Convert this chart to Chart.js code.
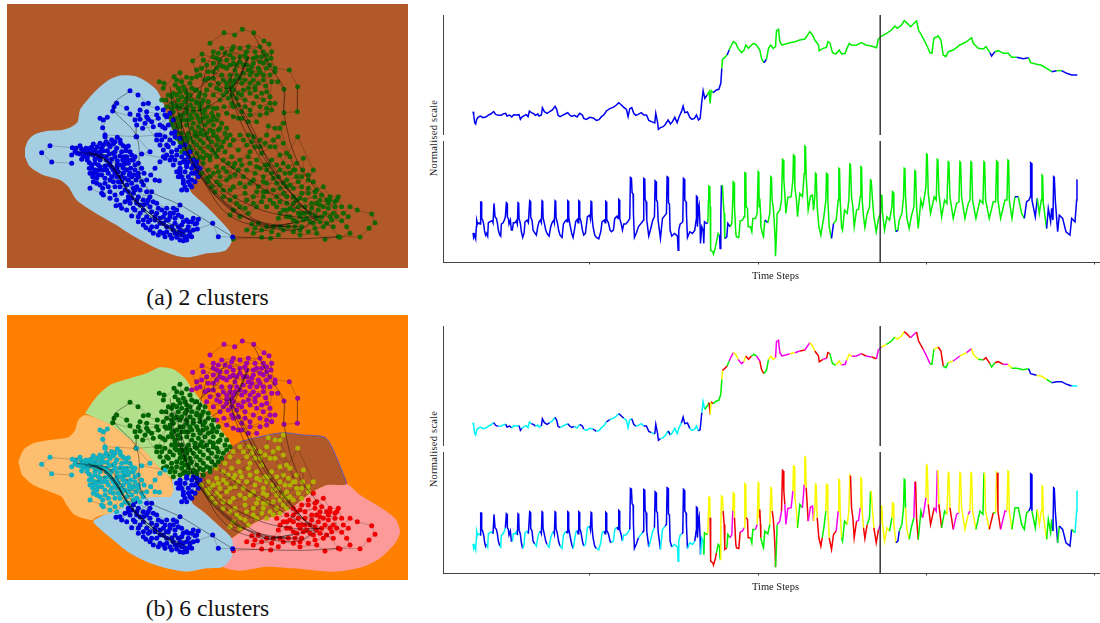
<!DOCTYPE html>
<html>
<head>
<meta charset="utf-8">
<title>Clusters</title>
<script src="https://cdn.jsdelivr.net/npm/chart.js@4"></script>
<style>
html, body { margin: 0; padding: 0; background: #fff; }
body { position: relative; width: 1100px; height: 623px; overflow: hidden; font-family: "Liberation Serif", serif; color: #111; }
canvas { position: absolute; display: block; }
.caption { position: absolute; width: 401px; left: 7px; text-align: center; font-size: 23.7px; line-height: 24px; }
.ylabel { position: absolute; left: 384px; width: 100px; text-align: center; font-size: 10.5px; line-height: 12px; letter-spacing: .25px; transform: rotate(-90deg); color: #222; }
</style>
</head>
<body>
<canvas id="mapA" width="401" height="264" style="left:7px;top:4px"></canvas>
<canvas id="mapB" width="401" height="265" style="left:7px;top:315px"></canvas>
<canvas id="topA" width="668" height="120" style="left:440px;top:15px"></canvas>
<canvas id="botA" width="668" height="144" style="left:440px;top:141px"></canvas>
<canvas id="topB" width="668" height="120" style="left:440px;top:326px"></canvas>
<canvas id="botB" width="668" height="144" style="left:440px;top:452px"></canvas>
<div class="caption" style="top:285px">(a) 2 clusters</div>
<div class="caption" style="top:596px">(b) 6 clusters</div>
<div class="ylabel" style="top:132px">Normalised scale</div>
<div class="ylabel" style="top:443px">Normalised scale</div>
<script>
// Map nodes (map units)
const cyanNodes = [[215,490],[155,486],[125,458],[150,437],[217,443],[240,437],[215,465],[232,460],[250,455],[270,445],[290,460],[262,470],[240,462],[225,455],[258,445],[280,432],[300,430],[318,425],[335,420],[352,412],[360,420],[315,410],[330,440],[350,445],[370,437],[385,438],[395,465],[372,470],[345,470],[320,480],[296,470],[280,465],[262,480],[275,495],[270,520],[285,510],[300,500],[325,495],[340,510],[360,495],[385,490],[400,480],[405,510],[415,520],[390,520],[370,520],[350,530],[325,520],[305,525],[290,535],[280,545],[270,565],[305,580],[330,575],[345,585],[360,560],[380,555],[395,550],[410,560],[430,555],[415,530],[440,540],[375,535],[340,545],[315,550],[300,555],[288,520],[310,452],[328,462],[345,455],[365,455],[378,452],[340,432],[305,445],[275,455],[255,460],[300,480],[330,490],[350,505],[370,505],[392,505],[295,495],[285,490],[275,505],[310,510],[335,530],[355,545],[375,570],[300,355],[310,360],[322,352],[308,383],[315,405],[410,410],[450,455],[425,462],[495,475],[480,485],[465,505],[452,525],[465,540],[478,542]];
const cyanDense = [[228,445],[245,448],[262,452],[275,442],[292,440],[310,435],[325,432],[345,425],[362,430],[378,443],[390,455],[405,470],[415,490],[425,505],[432,520],[405,495],[395,480],[380,470],[360,468],[340,460],[322,452],[300,455],[285,450],[268,462],[250,470],[245,478],[268,488],[285,478],[305,468],[318,470],[335,478],[352,482],[368,480],[382,478],[372,492],[352,495],[335,502],[315,498],[298,510],[280,520],[268,505],[295,525],[315,535],[330,540],[345,520],[362,530],[380,510],[395,530],[408,540],[425,545],[385,540],[365,545],[345,560],[325,560],[308,565],[290,550],[278,530],[320,510],[355,515],[375,490],[388,525],[402,525],[420,570],[400,565],[385,575],[365,580],[350,600],[330,595],[310,585]];
const blueNodes = [[348,617],[365,625],[385,590],[400,580],[415,590],[430,600],[450,590],[455,575],[390,610],[400,625],[395,648],[420,640],[440,650],[430,630],[410,610],[430,615],[450,620],[470,610],[475,625],[455,635],[465,650],[485,630],[500,625],[520,625],[540,615],[530,630],[510,640],[490,650],[505,660],[525,655],[545,650],[560,660],[575,665],[595,658],[585,672],[565,680],[545,675],[525,670],[500,680],[480,670],[465,660],[445,665],[438,683],[460,700],[480,695],[500,695],[520,690],[540,690],[560,690],[580,690],[592,687],[565,708],[550,722],[530,712],[510,705],[490,700],[555,710],[570,705],[545,705],[638,670],[655,710],[698,711]];
const blueDense = [[385,600],[395,595],[410,600],[420,615],[440,610],[460,605],[405,630],[415,650],[430,660],[450,660],[470,640],[480,655],[495,640],[510,650],[520,640],[535,645],[550,665],[535,680],[515,680],[490,670],[470,680],[455,680],[475,705],[495,710],[515,715],[535,700],[550,695],[570,695],[580,655],[590,670],[565,665],[405,570],[440,575],[445,600],[375,605],[360,615],[380,630],[415,665],[430,675],[450,690],[500,660],[525,700],[540,720],[560,720],[575,710]];
const blobNodes = [[545,570],[555,560],[570,555],[575,540],[585,520],[575,505],[560,500],[540,505],[530,515],[540,520],[555,515],[565,530],[545,530],[540,510],[575,520],[590,500],[580,495],[560,495],[550,540],[535,530],[590,515],[600,505],[565,545],[550,550],[595,530],[585,545],[575,560],[560,570]];
const loopNodes = [[390,272],[414,285],[445,310],[430,312],[472,325],[490,330],[470,345],[440,350],[415,345],[405,360],[390,342],[380,325],[350,310],[342,320],[338,333],[420,358],[445,358],[460,380],[428,385],[410,375],[408,410],[470,405],[488,380],[500,350],[480,375],[495,385],[485,420],[480,435],[500,435],[490,450],[515,400],[525,410],[505,440],[515,470],[530,465],[540,440],[555,460],[565,470],[580,480],[510,480],[525,480],[540,490]];
const loopDense = [[470,420],[480,405],[495,410],[510,420],[520,430],[530,450],[545,470],[555,480],[500,465],[515,455],[490,470],[520,360],[505,375],[525,395],[540,415],[555,435],[570,455],[510,340],[495,345],[440,335],[420,330],[455,365],[475,355],[435,370],[520,495],[550,485],[565,485],[590,485]];
const greenNodes = [[478,245],[492,250],[490,265],[522,230],[540,218],[545,245],[530,240],[560,232],[525,255],[550,260],[570,250],[585,270],[560,280],[540,275],[520,280],[505,285],[498,300],[515,310],[535,300],[555,305],[575,300],[595,290],[610,300],[625,320],[600,320],[580,325],[560,325],[540,325],[520,335],[510,350],[530,355],[550,345],[570,345],[590,345],[610,340],[635,340],[650,360],[625,365],[600,365],[580,370],[560,375],[540,380],[525,385],[545,400],[565,400],[585,395],[605,390],[630,390],[660,385],[675,400],[690,405],[650,410],[625,415],[600,420],[580,425],[560,425],[540,425],[555,445],[575,450],[600,445],[625,440],[650,435],[670,425],[645,460],[620,465],[600,470],[580,475],[610,490],[590,495],[515,290],[530,315],[570,285],[590,305],[515,365],[545,360],[565,360],[595,380],[615,375],[640,375],[570,415],[610,405],[635,425],[590,460],[610,455],[630,480],[655,390],[680,415],[530,400],[550,415]];
const greenDense = [[485,300],[500,320],[515,325],[530,285],[545,290],[560,295],[590,270],[600,280],[615,285],[625,305],[640,325],[655,345],[665,370],[680,385],[640,350],[620,350],[595,355],[575,355],[555,360],[535,370],[518,375],[530,415],[545,435],[560,410],[575,385],[590,410],[610,430],[640,405],[655,420],[665,440],[635,450],[590,435],[570,440],[545,455],[565,460],[590,480],[610,475],[630,470],[655,450],[540,345],[560,335],[580,335],[600,330],[615,330],[635,360],[610,355],[585,405],[600,400],[620,400],[640,395],[525,320],[545,315],[570,315],[590,310],[605,310],[535,265],[555,270],[575,265]];
const purpleNodes = [[630,130],[672,98],[704,105],[727,88],[761,98],[792,123],[807,132],[815,155],[813,175],[825,205],[868,210],[893,260],[892,335],[852,338],[852,268],[833,245],[606,162],[578,182],[590,230],[575,235],[605,205],[620,195],[640,155],[655,160],[675,160],[695,150],[720,145],[740,155],[765,155],[790,155],[800,180],[780,185],[760,175],[740,175],[720,170],[700,175],[680,180],[660,180],[640,190],[625,215],[650,205],[670,200],[690,195],[710,195],[730,195],[755,200],[775,205],[800,205],[825,215],[810,225],[790,225],[770,225],[750,225],[730,220],[710,225],[690,225],[665,225],[640,235],[615,240],[630,255],[655,250],[680,250],[700,250],[725,250],[750,250],[775,250],[797,258],[815,245],[810,290],[790,300],[770,290],[750,280],[730,270],[700,270],[680,275],[660,270],[640,285],[660,300],[685,295],[710,295],[735,300],[760,310],[780,320],[810,310],[825,310],[800,340],[780,345],[750,345],[725,335],[700,320],[672,320],[650,325],[715,355],[745,365],[770,365],[690,240],[705,210],[720,235],[745,210],[680,262],[695,262],[715,280],[640,215],[765,270]];
const purpleDense = [[640,170],[660,195],[680,205],[700,190],[720,185],[740,195],[760,190],[785,170],[800,165],[770,170],[790,240],[760,240],[735,240],[705,240],[670,240],[650,265],[625,235],[600,225],[620,270],[670,285],[695,285],[725,285],[745,265],[765,260],[785,280],[800,275],[750,330],[735,320],[715,315],[695,310],[680,340],[700,350],[725,355],[800,325],[815,330],[790,190],[810,195],[665,145],[700,140],[745,140],[780,140],[650,175],[690,165],[735,165],[755,215],[780,215],[610,180],[590,210]];
const oliveNodes = [[850,370],[825,385],[805,378],[800,405],[780,420],[760,410],[745,405],[720,405],[690,435],[715,450],[740,435],[765,440],[785,460],[810,440],[835,410],[850,430],[860,460],[840,465],[815,480],[795,495],[770,480],[745,470],[720,480],[695,470],[670,480],[650,500],[625,510],[605,520],[630,530],[660,530],[690,530],[715,510],[740,510],[765,520],[790,530],[815,520],[840,510],[865,500],[890,490],[910,475],[908,510],[890,530],[860,540],[830,550],[800,550],[775,560],[750,550],[720,550],[700,560],[660,555],[635,560],[625,545],[705,590],[735,580],[760,590],[790,590],[810,600],[830,590],[850,580],[880,565],[905,560],[925,540],[940,510],[893,410],[770,620],[745,640],[720,650],[690,645],[720,620],[790,575],[860,590],[670,505],[700,500],[680,540],[650,545],[730,530],[770,500],[800,510],[830,495],[855,520],[880,510]];
const oliveDense = [[640,520],[655,515],[680,515],[705,525],[725,495],[750,490],[780,505],[805,495],[835,530],[850,550],[870,555],[895,545],[905,530],[925,525],[870,520],[850,490],[825,440],[780,440],[750,455],[705,490],[685,490],[620,535],[645,575],[670,590],[690,600],[710,610],[740,600],[770,575],[800,575],[820,570],[840,565],[860,560],[820,535],[790,545],[760,540],[735,560],[690,570],[670,570],[700,630],[735,625],[760,610],[785,605],[800,620],[820,610],[840,605],[650,470],[675,455],[700,420],[730,420],[755,425],[795,430],[820,420],[870,470],[885,510],[840,385]];
const redNodes = [[700,717],[785,712],[812,715],[835,705],[850,690],[880,695],[900,705],[950,700],[975,718],[1015,710],[1080,711],[1107,685],[1125,668],[1115,642],[1072,630],[1050,620],[1030,640],[1045,650],[1025,662],[995,660],[970,680],[945,685],[925,695],[905,680],[890,665],[870,650],[850,630],[830,620],[860,610],[880,590],[905,580],[925,580],[950,570],[970,560],[990,590],[1015,590],[1025,620],[1005,620],[985,610],[960,600],[935,610],[915,620],[895,620],[880,630],[905,640],[930,640],[955,630],[975,640],[1000,640],[950,655],[930,665],[910,660],[885,680],[800,680],[775,670],[755,672],[740,690],[765,685],[815,695],[940,545],[1040,680],[1050,700],[1020,712],[915,600],[945,590],[890,600],[870,625],[960,615],[985,625],[1010,600]];
const redDense = [[840,640],[860,650],[880,660],[900,650],[920,655],[945,645],[965,650],[990,650],[1010,650],[1005,605],[980,600],[965,585],[945,575],[925,565],[900,595],[880,610],[860,630],[835,655],[820,680],[785,690],[760,700],[840,680],[865,680],[900,690],[940,670],[960,665],[980,670],[1000,680],[895,640],[915,640],[935,625],[950,610],[970,620],[990,600]];

// Long sweeps of the trajectory through the map
const trajectoryA = [[270,460],[310,480],[350,520],[400,590],[460,650],[550,710]];
const trajectoryB = [[290,465],[335,495],[375,560],[430,625],[510,680],[560,705]];
const trajectoryC = [[500,300],[540,400],[590,510],[650,590],[760,665],[880,690],[950,660]];
const trajectoryD = [[525,300],[565,430],[620,530],[700,610],[790,670],[900,680]];
const trajectoryE = [[690,265],[725,335],[790,470],[880,590],[940,650]];
const trajectoryF = [[700,280],[760,390],[820,510],[900,610],[945,660]];
const trajectoryG = [[680,150],[640,230],[690,265],[745,170],[700,280]];
const trajectoryH = [[600,525],[680,640],[790,680],[870,670],[960,650]];
const trajectoryI = [[660,210],[560,310],[550,420],[610,540],[720,650]];
const trajectoryJ = [[390,272],[340,320],[410,410],[430,550],[550,620],[698,711]];
const trajectoryK = [[698,711],[900,716],[1015,710]];
const trajectoryL = [[760,100],[810,200],[852,268],[852,338],[890,480],[950,570]];
const trajectoryM = [[255,462],[300,470],[330,495],[365,545],[410,610],[480,670],[550,700]];
const trajectoryN = [[265,455],[320,480],[355,530],[395,590],[450,640],[520,695]];
const trajectoryO = [[280,460],[325,470],[370,530],[420,600],[490,660],[560,690]];
const trajectoryP = [[230,455],[290,465],[340,500],[380,570],[440,640],[540,710]];
const trajectoryQ = [[510,260],[530,380],[600,520],[680,620],[760,660],[860,680]];
const trajectoryR = [[560,260],[570,400],[640,540],[760,620],[880,650],[960,650]];
const trajectoryS = [[690,260],[700,310],[760,440],[850,570],[930,640]];
const trajectoryT = [[720,170],[690,265],[740,370],[820,500],[900,610],[950,650]];
const trajectoryU = [[590,500],[640,570],[720,640],[800,675],[880,670]];
const trajectoryV = [[620,200],[600,310],[640,450],[720,520],[830,590],[920,640]];
const trajectoryW = [[740,180],[700,260],[600,330],[530,320]];

// Background regions (map units)
const regionA = [[75,445],[85,420],[105,403],[140,393],[185,390],[215,380],[233,365],[240,330],[262,300],[295,265],[330,238],[365,226],[405,228],[440,245],[470,270],[490,310],[510,370],[530,420],[570,490],[585,530],[570,570],[610,610],[650,650],[690,695],[695,725],[675,752],[620,760],[570,772],[530,768],[470,745],[400,708],[340,670],[280,635],[230,600],[205,560],[180,540],[130,525],[90,500],[75,470]];
const regionPeach = [[55,455],[70,420],[100,400],[150,390],[205,382],[225,360],[235,330],[255,315],[300,330],[340,350],[385,385],[430,420],[470,465],[510,505],[520,540],[510,560],[470,560],[420,565],[370,590],[330,610],[290,620],[275,630],[225,615],[200,585],[185,560],[150,545],[100,525],[65,495]];
const regionLime = [[255,310],[290,260],[330,225],[390,205],[440,190],[480,172],[520,178],[555,205],[575,235],[620,295],[660,355],[695,410],[670,440],[630,480],[600,490],[550,505],[515,505],[470,465],[430,420],[385,385],[340,350],[300,330]];
const regionSky = [[515,505],[550,505],[600,495],[590,530],[575,575],[610,605],[660,650],[695,685],[697,735],[670,770],[620,775],[560,785],[500,775],[440,755],[390,730],[340,690],[280,635],[300,620],[340,605],[380,585],[420,565],[470,560],[510,560],[520,540]];
const regionBrown = [[600,495],[640,465],[695,410],[720,395],[780,380],[850,368],[910,375],[975,382],[1000,420],[1025,480],[1040,522],[980,525],[930,550],[880,590],[830,615],[770,635],[700,680],[695,685],[660,650],[610,605],[575,575],[590,530]];
const regionBrownEdge = [[720,395],[780,380],[850,368],[910,375],[975,382],[1000,420],[1025,480],[1040,522]];
const regionPink = [[695,685],[770,635],[830,615],[880,590],[930,550],[980,525],[1040,522],[1080,555],[1130,585],[1185,625],[1200,665],[1185,700],[1140,745],[1090,770],[1000,785],[880,775],[800,770],[720,782],[670,770],[697,735]];

// Time series: [time step, reading]
const upperSeries = [[160,335],[162,345],[165,368],[168,372],[171,358],[175,352],[182,348],[190,353],[198,351],[205,346],[213,342],[222,335],[228,343],[236,346],[245,346],[250,342],[258,340],[262,348],[270,345],[276,351],[282,344],[292,345],[298,344],[302,358],[306,352],[313,347],[320,344],[325,350],[329,333],[335,338],[342,341],[347,346],[354,342],[358,348],[365,345],[368,323],[374,335],[382,340],[390,335],[398,330],[406,319],[411,328],[415,346],[421,350],[428,346],[436,342],[444,338],[450,345],[456,349],[464,346],[472,351],[480,340],[488,345],[492,355],[500,358],[510,352],[520,354],[530,361],[538,359],[545,350],[552,345],[560,333],[570,326],[580,322],[590,315],[597,308],[605,315],[612,322],[620,328],[625,350],[630,326],[636,323],[642,340],[648,346],[655,343],[665,338],[672,345],[680,345],[687,361],[695,365],[705,369],[708,340],[713,365],[716,388],[722,383],[730,380],[736,374],[745,360],[752,372],[758,365],[765,352],[772,368],[778,350],[785,335],[790,318],[795,338],[803,336],[810,352],[816,358],[824,355],[830,345],[836,360],[841,356],[846,305],[850,272],[855,295],[862,285],[868,275],[871,310],[874,272],[880,278],[890,270],[897,268],[903,250],[906,205],[908,178],[915,172],[922,165],[928,150],[935,135],[941,125],[948,130],[955,145],[965,158],[972,152],[978,135],[986,145],[995,135],[1002,130],[1010,135],[1020,150],[1025,175],[1032,188],[1040,178],[1046,145],[1053,135],[1060,145],[1067,140],[1070,92],[1076,88],[1080,125],[1086,135],[1098,132],[1110,128],[1125,125],[1140,120],[1155,117],[1170,95],[1178,105],[1185,120],[1196,135],[1198,152],[1210,145],[1220,142],[1224,125],[1230,128],[1238,158],[1248,162],[1258,150],[1265,162],[1276,160],[1280,148],[1288,130],[1296,136],[1310,135],[1325,128],[1338,135],[1355,138],[1370,143],[1375,118],[1385,108],[1400,100],[1415,90],[1425,78],[1432,85],[1445,75],[1453,62],[1460,68],[1472,80],[1480,72],[1490,63],[1496,90],[1510,115],[1520,135],[1530,158],[1536,160],[1542,115],[1555,108],[1563,120],[1570,165],[1578,170],[1585,155],[1600,150],[1620,135],[1640,125],[1655,113],[1660,130],[1675,145],[1690,147],[1698,140],[1710,158],[1715,168],[1725,155],[1735,152],[1750,160],[1765,160],[1775,172],[1790,172],[1810,176],[1826,173],[1832,188],[1850,193],[1865,196],[1880,205],[1895,215],[1910,212],[1925,212],[1940,220],[1955,225],[1972,225]];
const lowerSeries = [[160,698],[162,712],[165,705],[168,716],[170,680],[171,660],[174,672],[178,668],[181,672],[183,606],[185,606],[186,655],[189,660],[192,672],[195,695],[198,706],[201,700],[204,708],[206,668],[212,664],[218,662],[220,668],[223,610],[225,610],[226,650],[230,655],[233,668],[236,690],[240,704],[243,708],[245,672],[250,668],[254,660],[257,650],[260,608],[262,610],[263,650],[266,655],[268,672],[272,660],[275,690],[278,690],[281,668],[286,668],[290,662],[293,672],[295,608],[297,610],[298,655],[302,670],[305,695],[309,712],[313,700],[316,665],[322,660],[326,668],[330,602],[332,604],[333,652],[337,660],[340,690],[345,698],[350,705],[354,680],[358,665],[362,660],[365,668],[367,602],[369,604],[370,652],[374,670],[378,690],[382,700],[388,708],[393,680],[397,668],[402,660],[404,668],[406,602],[408,604],[409,652],[413,668],[417,692],[421,705],[427,712],[431,672],[435,665],[440,660],[442,665],[444,602],[446,604],[447,652],[451,675],[456,700],[460,712],[464,690],[468,664],[473,658],[475,668],[477,602],[479,604],[480,652],[484,665],[488,690],[492,705],[497,700],[503,650],[510,645],[512,655],[514,604],[516,606],[517,650],[520,680],[525,705],[530,712],[537,716],[543,695],[547,665],[554,660],[556,668],[558,604],[560,606],[561,658],[566,668],[571,690],[575,695],[581,690],[585,655],[592,648],[595,655],[597,598],[599,600],[600,655],[604,670],[608,690],[612,672],[618,672],[624,665],[630,655],[632,532],[635,534],[637,578],[640,582],[641,640],[644,712],[650,698],[656,680],[662,672],[668,665],[671,660],[672,535],[675,537],[676,598],[679,605],[681,660],[687,708],[693,685],[699,660],[704,650],[706,542],[709,545],[710,600],[713,605],[715,660],[722,715],[728,655],[736,645],[740,640],[742,530],[745,532],[746,608],[749,612],[751,690],[756,708],[764,700],[770,705],[773,708],[775,750],[777,690],[781,672],[786,668],[789,665],[791,535],[794,538],[795,600],[799,606],[800,640],[803,712],[810,695],[818,700],[825,690],[829,660],[830,588],[832,590],[833,680],[836,625],[838,615],[841,680],[842,730],[846,680],[850,690],[852,730],[854,665],[860,670],[864,668],[866,600],[867,558],[870,560],[871,620],[872,680],[873,750],[879,755],[881,762],[886,745],[890,725],[895,700],[899,705],[901,745],[903,650],[905,555],[908,558],[910,600],[913,640],[915,715],[921,710],[924,670],[931,680],[936,670],[939,600],[940,545],[943,548],[944,620],[948,700],[950,710],[957,712],[961,662],[968,660],[973,650],[975,518],[978,520],[979,620],[983,625],[985,680],[992,680],[996,695],[999,655],[1007,655],[1012,640],[1015,515],[1017,517],[1018,620],[1020,595],[1022,640],[1023,680],[1029,705],[1031,710],[1035,660],[1044,668],[1050,640],[1053,530],[1055,532],[1057,600],[1060,620],[1063,660],[1066,720],[1067,768],[1070,700],[1072,640],[1080,630],[1085,600],[1088,478],[1090,480],[1092,540],[1095,580],[1098,640],[1104,592],[1114,590],[1119,540],[1121,465],[1123,467],[1125,560],[1130,600],[1133,650],[1140,580],[1148,590],[1153,520],[1155,438],[1157,440],[1159,530],[1162,580],[1165,630],[1172,588],[1178,585],[1181,630],[1185,590],[1187,520],[1189,522],[1192,620],[1197,680],[1203,705],[1207,680],[1212,650],[1218,600],[1220,520],[1222,522],[1224,600],[1228,680],[1235,715],[1241,670],[1249,660],[1255,600],[1257,505],[1259,507],[1261,600],[1265,680],[1268,690],[1274,630],[1282,640],[1287,600],[1290,492],[1292,494],[1295,590],[1299,620],[1303,680],[1310,630],[1316,628],[1321,590],[1323,500],[1325,502],[1327,600],[1331,650],[1335,682],[1342,640],[1349,620],[1352,540],[1354,542],[1358,600],[1362,650],[1369,695],[1376,655],[1382,640],[1384,585],[1386,587],[1388,640],[1394,690],[1401,650],[1409,660],[1416,620],[1418,575],[1420,577],[1422,640],[1428,695],[1434,690],[1438,660],[1446,640],[1451,590],[1453,505],[1455,507],[1457,590],[1461,655],[1468,685],[1474,650],[1482,620],[1485,512],[1487,514],[1490,620],[1495,685],[1503,600],[1508,620],[1512,600],[1518,560],[1520,462],[1522,464],[1525,580],[1532,640],[1543,590],[1549,600],[1552,478],[1554,480],[1557,580],[1565,650],[1574,600],[1581,610],[1585,485],[1587,487],[1590,590],[1600,655],[1610,610],[1617,605],[1620,485],[1622,487],[1625,590],[1635,655],[1645,610],[1650,600],[1653,485],[1655,487],[1658,600],[1668,655],[1680,600],[1689,610],[1692,485],[1694,487],[1697,600],[1708,655],[1720,605],[1727,605],[1730,483],[1732,485],[1734,600],[1742,655],[1755,600],[1761,600],[1764,480],[1766,482],[1768,600],[1776,655],[1785,590],[1795,590],[1805,640],[1813,655],[1820,605],[1827,600],[1831,590],[1832,488],[1834,490],[1836,600],[1846,650],[1852,595],[1858,640],[1864,600],[1866,525],[1868,527],[1870,610],[1880,685],[1885,625],[1892,665],[1895,625],[1899,660],[1901,530],[1903,532],[1906,600],[1913,695],[1918,645],[1928,655],[1938,695],[1950,705],[1955,655],[1965,665],[1970,600],[1971,540],[1972,540]];

// Colour runs along the time axis: [end step, cluster]
const upperRunsTwo = [[861,'b'],[875,'g'],[906,'b'],[916,'g'],[925,'b'],[1030,'g'],[1040,'b'],[1300,'g'],[1310,'b'],[1708,'g'],[1716,'b'],[1785,'g'],[1826,'b'],[1890,'g'],[1905,'b'],[1915,'g'],[1975,'b']];
const lowerRunsTwo = [[864,'b'],[896,'g'],[905,'b'],[915,'g'],[925,'b'],[1033,'g'],[1040,'b'],[1232,'g'],[1238,'b'],[1428,'g'],[1434,'b'],[1780,'g'],[1795,'b'],[1812,'g'],[1838,'b'],[1845,'g'],[1852,'b'],[1880,'g'],[1975,'b']];
const upperRunsSix = [[220,'c'],[235,'b'],[258,'c'],[272,'b'],[295,'c'],[305,'b'],[330,'c'],[345,'b'],[365,'c'],[385,'b'],[405,'c'],[418,'b'],[442,'c'],[458,'b'],[477,'c'],[492,'b'],[512,'c'],[528,'b'],[556,'c'],[565,'b'],[592,'c'],[610,'b'],[632,'c'],[648,'b'],[670,'c'],[690,'b'],[704,'c'],[720,'b'],[738,'c'],[752,'b'],[785,'c'],[806,'b'],[836,'c'],[844,'b'],[852,'c'],[868,'g'],[871,'r'],[874,'y'],[880,'r'],[904,'g'],[908,'y'],[916,'r'],[926,'g'],[940,'m'],[950,'y'],[972,'m'],[978,'y'],[990,'r'],[1010,'g'],[1015,'m'],[1028,'r'],[1045,'g'],[1065,'y'],[1085,'m'],[1100,'m'],[1120,'y'],[1140,'m'],[1155,'r'],[1170,'m'],[1185,'y'],[1200,'r'],[1220,'m'],[1230,'r'],[1245,'g'],[1260,'y'],[1280,'m'],[1295,'y'],[1320,'m'],[1335,'r'],[1355,'m'],[1370,'r'],[1380,'m'],[1400,'y'],[1420,'g'],[1450,'y'],[1470,'r'],[1490,'m'],[1500,'r'],[1525,'m'],[1540,'g'],[1555,'y'],[1565,'r'],[1580,'g'],[1595,'y'],[1615,'m'],[1640,'y'],[1655,'m'],[1670,'y'],[1690,'g'],[1705,'r'],[1720,'g'],[1740,'r'],[1760,'m'],[1775,'y'],[1825,'g'],[1835,'b'],[1880,'y'],[1895,'g'],[1955,'b'],[1975,'c']];
const lowerRunsSix = [[181,'c'],[200,'b'],[220,'c'],[240,'b'],[256,'c'],[276,'b'],[292,'c'],[309,'b'],[325,'c'],[342,'b'],[362,'c'],[382,'b'],[400,'c'],[421,'b'],[438,'c'],[460,'b'],[470,'c'],[492,'b'],[508,'c'],[528,'b'],[552,'c'],[575,'b'],[590,'c'],[608,'b'],[628,'c'],[652,'b'],[668,'c'],[687,'b'],[702,'c'],[722,'b'],[736,'c'],[756,'b'],[785,'c'],[803,'b'],[822,'c'],[842,'b'],[852,'c'],[862,'g'],[871,'y'],[887,'r'],[901,'g'],[910,'y'],[917,'r'],[925,'g'],[938,'m'],[944,'y'],[958,'r'],[970,'m'],[979,'y'],[988,'r'],[1000,'g'],[1012,'m'],[1018,'y'],[1023,'r'],[1048,'g'],[1057,'y'],[1067,'r'],[1072,'g'],[1082,'m'],[1095,'r'],[1118,'m'],[1133,'y'],[1145,'g'],[1150,'m'],[1159,'y'],[1165,'r'],[1180,'m'],[1190,'y'],[1205,'r'],[1217,'g'],[1228,'y'],[1245,'r'],[1255,'m'],[1265,'y'],[1282,'g'],[1292,'y'],[1305,'r'],[1318,'m'],[1330,'y'],[1340,'r'],[1352,'g'],[1360,'y'],[1372,'r'],[1382,'m'],[1404,'y'],[1416,'g'],[1428,'y'],[1435,'b'],[1450,'g'],[1457,'g'],[1465,'y'],[1475,'g'],[1485,'m'],[1495,'r'],[1505,'g'],[1515,'m'],[1525,'y'],[1533,'r'],[1540,'g'],[1550,'m'],[1557,'y'],[1565,'r'],[1580,'g'],[1590,'y'],[1600,'r'],[1616,'m'],[1637,'y'],[1650,'m'],[1660,'y'],[1692,'g'],[1700,'y'],[1710,'r'],[1725,'g'],[1732,'y'],[1742,'r'],[1760,'m'],[1775,'y'],[1825,'g'],[1835,'b'],[1852,'g'],[1880,'y'],[1898,'g'],[1910,'b'],[1915,'g'],[1955,'b'],[1965,'g'],[1975,'c']];

// Axis values
const timeTicks = [508, 1015, 1519, 2023];
const markerStep = 1381;

const traceColours = { b: '#0000f0', g: '#00f000', c: '#00f4f4', r: '#f00000', y: '#f8f800', m: '#f800f0' };

function toPoints(list, shift) {
    return list.map(p => ({ x: p[0], y: p[1] + shift }));
}

function nodeSet(list, colour, shift) {
    return {
        data: toPoints(list, shift),
        showLine: true,
        borderColor: 'rgba(0,0,0,0.4)',
        borderWidth: 0.5,
        backgroundColor: colour,
        pointRadius: 2.5,
        pointBorderWidth: 0,
        order: 2
    };
}

function regionSet(list, colour) {
    return {
        data: toPoints(list, 0),
        showLine: true,
        fill: 'shape',
        tension: 0.25,
        backgroundColor: colour,
        borderColor: colour,
        borderWidth: 0,
        pointRadius: 0,
        order: 5
    };
}

function sweepSet(list, shift) {
    return {
        data: toPoints(list, shift),
        showLine: true,
        tension: 0.4,
        borderColor: 'rgba(0,0,0,0.6)',
        borderWidth: 0.7,
        pointRadius: 0,
        order: 1
    };
}

const sweeps = [trajectoryA, trajectoryB, trajectoryC, trajectoryD, trajectoryE, trajectoryF, trajectoryG, trajectoryH, trajectoryI, trajectoryJ, trajectoryK, trajectoryL, trajectoryM, trajectoryN, trajectoryO, trajectoryP, trajectoryQ, trajectoryR, trajectoryS, trajectoryT, trajectoryU, trajectoryV, trajectoryW];

function drawMap(id, background, yMin, yMax, datasets) {
    new Chart(document.getElementById(id), {
        type: 'scatter',
        data: { datasets },
        plugins: [{
            id: 'panelBackground',
            beforeDraw(chart) {
                const a = chart.chartArea;
                chart.ctx.fillStyle = background;
                chart.ctx.fillRect(a.left, a.top, a.width, a.height);
            }
        }],
        options: {
            responsive: false,
            animation: false,
            events: [],
            layout: { padding: 0, autoPadding: false },
            plugins: { legend: { display: false }, tooltip: { enabled: false } },
            scales: {
                x: { display: false, min: 21, max: 1224 },
                y: { display: false, reverse: true, min: yMin, max: yMax }
            }
        }
    });
}

function runColour(runs, step) {
    for (const [end, key] of runs) {
        if (step < end) return traceColours[key];
    }
    return traceColours[runs[runs.length - 1][1]];
}

function drawTrace(id, series, runs, yMin, yMax, withTimeAxis) {
    new Chart(document.getElementById(id), {
        type: 'scatter',
        data: {
            datasets: [{
                data: toPoints(series, 0),
                showLine: true,
                borderWidth: 1.5,
                borderColor: '#0000f0',
                pointRadius: 0,
                segment: { borderColor: ctx => runColour(runs, ctx.p0.parsed.x) },
                order: 2
            }, {
                data: [{ x: markerStep, y: yMin }, { x: markerStep, y: yMax }],
                showLine: true,
                borderWidth: 0.8,
                borderColor: '#333',
                pointRadius: 0,
                order: 1
            }]
        },
        options: {
            responsive: false,
            animation: false,
            events: [],
            layout: { padding: { left: 3, top: 0, right: 0, bottom: 0 }, autoPadding: false },
            plugins: { legend: { display: false }, tooltip: { enabled: false } },
            scales: {
                x: {
                    display: withTimeAxis,
                    min: 70,
                    max: 2064,
                    afterBuildTicks: scale => { scale.ticks = timeTicks.map(value => ({ value })); },
                    afterFit: scale => { if (withTimeAxis) scale.height = 22.5; },
                    ticks: { display: false },
                    grid: { drawOnChartArea: false, tickLength: 2, color: '#444' },
                    border: { color: '#444', width: 1 },
                    title: {
                        display: true,
                        text: 'Time Steps',
                        color: '#222',
                        font: { family: 'Liberation Serif', size: 10.5 },
                        padding: { top: 0, bottom: 2 }
                    }
                },
                y: {
                    reverse: true,
                    min: yMin,
                    max: yMax,
                    afterFit: scale => { scale.width = 0; },
                    ticks: { display: false },
                    grid: { display: false },
                    border: { display: true, color: '#444', width: 1 }
                }
            }
        }
    });
}

// Top left map, 2 clusters
drawMap('mapA', '#b15928', 12, 804, [
    regionSet(regionA, '#a6cee3'),
    ...[cyanNodes, cyanDense, blueNodes, blueDense, blobNodes, loopNodes, loopDense].map(n => nodeSet(n, '#0000e0', 0)),
    ...[greenNodes, greenDense, purpleNodes, purpleDense, oliveNodes, oliveDense, redNodes, redDense].map(n => nodeSet(n, 'rgba(0,105,0,0.85)', 0)),
    ...sweeps.map(s => sweepSet(s, 0))
]);

// Bottom left map, 6 clusters
drawMap('mapB', '#ff7f00', 15, 810, [
    regionSet(regionPeach, '#fdbf6f'),
    regionSet(regionLime, '#b2df8a'),
    regionSet(regionSky, '#a6cee3'),
    regionSet(regionBrown, '#b15928'),
    regionSet(regionPink, '#fb9a99'),
    { data: toPoints(regionBrownEdge, 0), showLine: true, tension: 0.25, borderColor: '#6a5ab0', borderWidth: 1, pointRadius: 0, order: 4 },
    nodeSet(cyanNodes, '#10b0c0', 5),
    nodeSet(cyanDense, '#10b0c0', 5),
    nodeSet(blueNodes, '#0000e0', 5),
    nodeSet(blueDense, '#0000e0', 5),
    nodeSet(blobNodes, '#0000e0', 5),
    nodeSet(loopNodes, '#006400', 5),
    nodeSet(loopDense, '#006400', 5),
    nodeSet(greenNodes, '#006400', 5),
    nodeSet(greenDense, '#006400', 5),
    nodeSet(purpleNodes, '#a000a8', 5),
    nodeSet(purpleDense, '#a000a8', 5),
    nodeSet(oliveNodes, '#b0b000', 5),
    nodeSet(oliveDense, '#b0b000', 5),
    nodeSet(redNodes, '#f00000', 5),
    nodeSet(redDense, '#f00000', 5),
    ...sweeps.map(s => sweepSet(s, 5))
]);

// Right hand traces
drawTrace('topA', upperSeries, upperRunsTwo, 45, 405, false);
drawTrace('botA', lowerSeries, lowerRunsTwo, 423, 787, true);
drawTrace('topB', upperSeries, upperRunsSix, 45, 405, false);
drawTrace('botB', lowerSeries, lowerRunsSix, 423, 787, true);
</script>
</body>
</html>
